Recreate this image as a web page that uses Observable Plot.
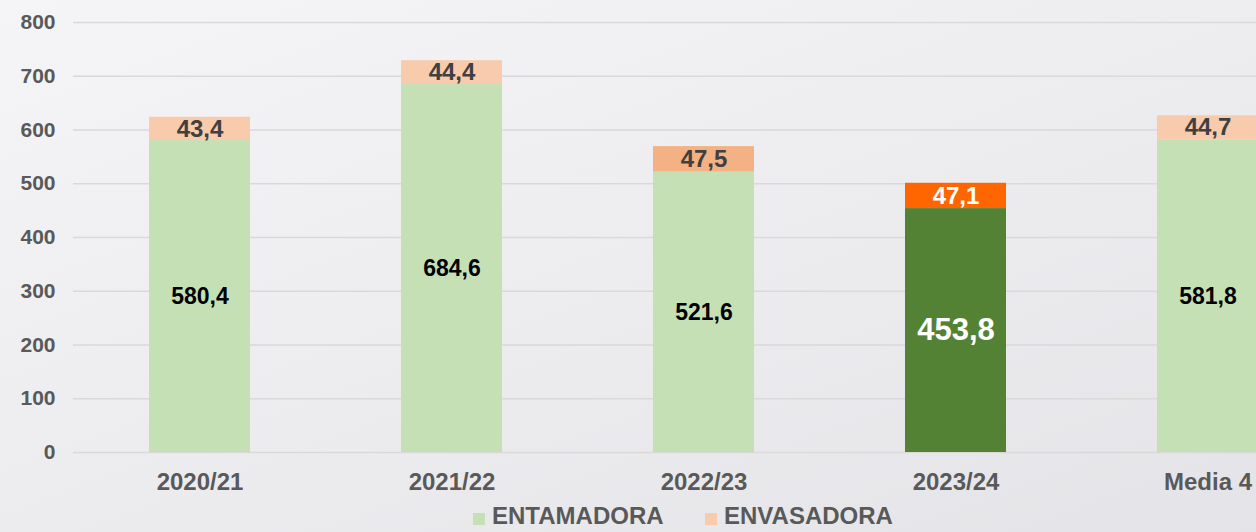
<!DOCTYPE html>
<html>
<head>
<meta charset="utf-8">
<script src="https://cdn.jsdelivr.net/npm/d3@7"></script>
<script src="https://cdn.jsdelivr.net/npm/@observablehq/plot@0.6"></script>
<style>
  html, body { margin: 0; padding: 0; width: 1256px; height: 532px; overflow: hidden; }
  body { background: linear-gradient(160deg, #f5f5f7 0%, #ebebee 60%, #e4e4e8 100%); font-family: "Liberation Sans", Arial, sans-serif; }
  #chart svg { display: block; }
  #legend { position: absolute; left: 0; top: 502px; width: 1256px; height: 28px; }
  .item { position: absolute; top: 0; font-weight: bold; font-size: 24px; color: #595959; line-height: 28px; white-space: nowrap; }
  .sw { display: inline-block; width: 12px; height: 12px; margin-right: 7px; vertical-align: -1px; }
</style>
</head>
<body>
<div id="chart"></div>
<div id="legend"></div>
<script>
const categories = ["2020/21", "2021/22", "2022/23", "2023/24", "Media 4"];
const entamadora = [580.4, 684.6, 521.6, 453.8, 581.8];
const envasadora = [43.4, 44.4, 47.5, 47.1, 44.7];
const entColors = ["#c5e0b4", "#c5e0b4", "#c5e0b4", "#548235", "#c5e0b4"];
const envColors = ["#f8cbad", "#f8cbad", "#f4b183", "#ff6600", "#f8cbad"];
const entLabelColors = ["#000000", "#000000", "#000000", "#ffffff", "#000000"];
const envLabelColors = ["#404040", "#404040", "#404040", "#ffffff", "#404040"];
const entLabelSizes = [23, 23, 23, 31, 23];
const yTicks = [0, 100, 200, 300, 400, 500, 600, 700, 800];
const legendItems = ["ENTAMADORA", "ENVASADORA"];

const fmt = v => v.toFixed(1).replace(".", ",");

const segs = [];
categories.forEach((c, i) => {
  segs.push({cat: c, y1: 0, y2: entamadora[i], v: entamadora[i], fill: entColors[i]});
  segs.push({cat: c, y1: entamadora[i], y2: entamadora[i] + envasadora[i], v: envasadora[i], fill: envColors[i]});
});
const entSegs = segs.filter((d, i) => i % 2 === 0);
const envSegs = segs.filter((d, i) => i % 2 === 1);

const plot = Plot.plot({
  width: 1256,
  height: 500,
  marginTop: 22,
  marginBottom: 48,
  marginLeft: 73,
  marginRight: 0,
  style: {fontFamily: "'Liberation Sans', Arial, sans-serif", background: "transparent", overflow: "hidden"},
  x: {domain: categories, range: [73, 1333], paddingInner: 0.6, paddingOuter: 0.3},
  y: {domain: [0, 800]},
  color: {type: "identity"},
  marks: [
    Plot.gridY(yTicks, {stroke: "#d9d9d9", strokeOpacity: 1, strokeWidth: 1.3}),
    Plot.axisY(yTicks, {tickSize: 0, tickPadding: 18, fontSize: 21, fontWeight: "bold", fill: "#595959", label: null}),
    Plot.axisX({tickSize: 0, tickPadding: 20, fontSize: 24, fontWeight: "bold", fill: "#595959", label: null}),
    Plot.barY(segs, {x: "cat", y1: "y1", y2: "y2", fill: "fill"}),
    ...categories.map((c, i) => Plot.text([entSegs[i]], {x: "cat", y: d => (d.y1 + d.y2) / 2, text: d => fmt(d.v), fill: entLabelColors[i], fontSize: entLabelSizes[i], fontWeight: "bold"})),
    ...categories.map((c, i) => Plot.text([envSegs[i]], {x: "cat", y: d => (d.y1 + d.y2) / 2, text: d => fmt(d.v), fill: envLabelColors[i], fontSize: 24, fontWeight: "bold"}))
  ]
});
document.getElementById("chart").appendChild(plot);

const legend = document.getElementById("legend");
const legendColors = ["#c5e0b4", "#f8cbad"];
const legendLeft = [473, 705];
legendItems.forEach((t, i) => {
  const el = document.createElement("div");
  el.className = "item";
  el.style.left = legendLeft[i] + "px";
  el.innerHTML = `<span class="sw" style="background:${legendColors[i]}"></span>${t}`;
  legend.appendChild(el);
});
</script>
</body>
</html>
